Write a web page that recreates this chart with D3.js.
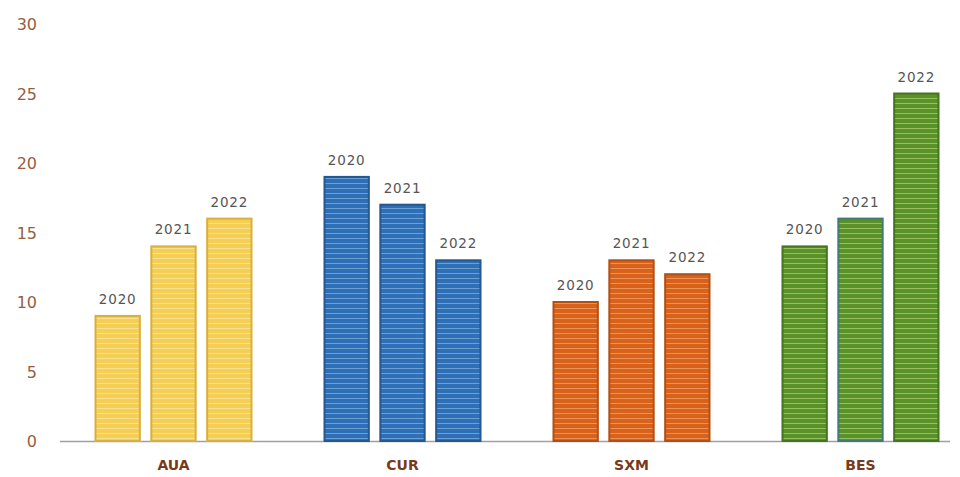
<!DOCTYPE html>
<html><head><meta charset="utf-8">
<script src="https://cdn.jsdelivr.net/npm/d3@7"></script>
<style>body{margin:0;background:#fff}svg{display:block}</style>
</head><body>
<svg id="c" width="960" height="477"></svg>
<script>
const categories = ["AUA", "CUR", "SXM", "BES"];
const years = ["2020", "2021", "2022"];
const valuesAUA = [9, 14, 16];
const valuesCUR = [19, 17, 13];
const valuesSXM = [10, 13, 12];
const valuesBES = [14, 16, 25];
const yTicks = [0, 5, 10, 15, 20, 25, 30];

const seriesByCat = {AUA: valuesAUA, CUR: valuesCUR, SXM: valuesSXM, BES: valuesBES};
const fills = {AUA: "#F4CE55", CUR: "#2F6FB5", SXM: "#D9621A", BES: "#5A9128"};
const stripes = {AUA: "#FBE7A2", CUR: "#7FB0E2", SXM: "#F2A06A", BES: "#A6D16E"};
const borders = {AUA: "#D9B03C", CUR: "#24588F", SXM: "#B24F14", BES: "#467521"};

const svg = d3.select("#c");
const y = d3.scaleLinear().domain([0, 30]).range([441, 24]);
const x0 = d3.scaleBand().domain(categories).range([59, 975]).paddingInner(0.31).paddingOuter(0.155);
const x1 = d3.scaleBand().domain(years).range([0, x0.bandwidth()]).paddingInner(0.17);

const defs = svg.append("defs");
categories.forEach(c => {
  const p = defs.append("pattern").attr("id", "p" + c).attr("patternUnits", "userSpaceOnUse")
    .attr("width", 8).attr("height", 5);
  p.append("rect").attr("width", 8).attr("height", 5).attr("fill", fills[c]);
  p.append("rect").attr("y", 3).attr("width", 8).attr("height", 1).attr("fill", stripes[c]).attr("opacity", 0.75);
});

// y axis labels
const yAxis = d3.axisLeft(y).tickValues(yTicks).tickSize(0).tickPadding(0);
const ga = svg.append("g").attr("transform", "translate(37,0)").call(yAxis);
ga.select(".domain").remove();
ga.selectAll("text").attr("font-family", "DejaVu Sans").attr("font-size", 16)
  .attr("fill", "#95603F").attr("text-anchor", "end").attr("dy", "0.35em");

// baseline
svg.append("line").attr("x1", 60).attr("x2", 950).attr("y1", y(0) + 0.5).attr("y2", y(0) + 0.5)
  .attr("stroke", "#A0A0A0").attr("stroke-width", 1.5);

// bars
categories.forEach(c => {
  const g = svg.append("g").attr("transform", `translate(${x0(c)},0)`);
  seriesByCat[c].forEach((v, i) => {
    const yr = years[i];
    const stroke = (c === "BES" && yr === "2021") ? "#3F7A78" : borders[c];
    g.append("rect").attr("x", x1(yr) + 1).attr("y", y(v)).attr("width", x1.bandwidth() - 2)
      .attr("height", y(0) - y(v)).attr("fill", `url(#p${c})`).attr("stroke", stroke).attr("stroke-width", 2);
    g.append("text").attr("x", x1(yr) + x1.bandwidth() / 2).attr("y", y(v) - 12)
      .attr("text-anchor", "middle").attr("font-family", "DejaVu Sans").attr("font-size", 13.5)
      .attr("letter-spacing", 0.8).attr("fill", "#555").text(yr);
  });
});

// x axis labels
const xAxis = d3.axisBottom(x0).tickSize(0).tickPadding(0);
const gx = svg.append("g").attr("transform", `translate(0,${y(0)})`).call(xAxis);
gx.select(".domain").remove();
gx.selectAll("text").attr("font-family", "DejaVu Sans").attr("font-weight", "bold").attr("font-size", 14)
  .attr("fill", "#7A3A1A").attr("dy", "29");
</script>
</body></html>
